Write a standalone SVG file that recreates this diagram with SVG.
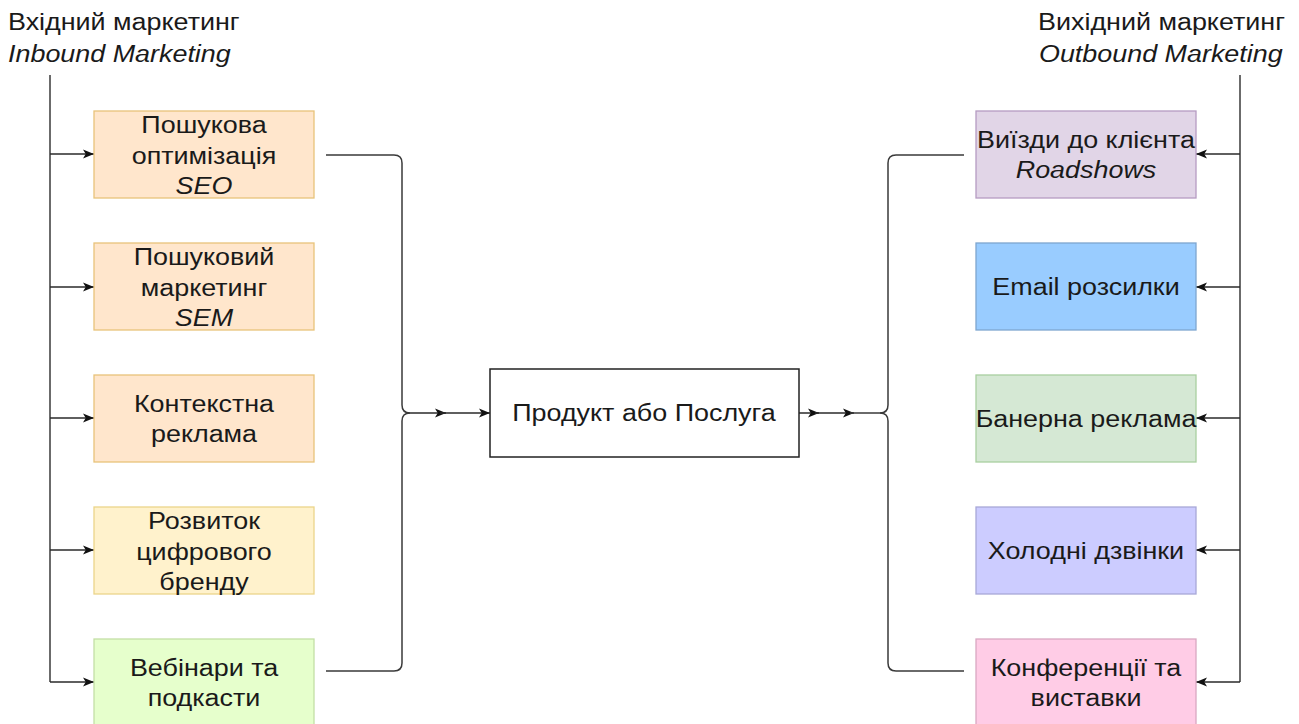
<svg xmlns="http://www.w3.org/2000/svg" width="1299" height="724" viewBox="0 0 1299 724">
<defs>
<marker id="ah" viewBox="0 0 10 10" refX="10" refY="5" markerWidth="11" markerHeight="10" markerUnits="userSpaceOnUse" orient="auto" preserveAspectRatio="none">
<path d="M0,0.5 L10,5 L0,9.5 L2.5,5 Z" fill="#111"/>
</marker>
<style>
text{font-family:"Liberation Sans",Arial,sans-serif;font-size:23px;fill:#1a1a1a}
.c{text-anchor:middle}
.e{text-anchor:end}
.i{font-style:italic}
.ln{fill:none;stroke:#3a3a3a;stroke-width:1.5}
.ar{fill:none;stroke:#2a2a2a;stroke-width:1.5;marker-end:url(#ah)}
.box{stroke-width:1.3}
</style>
</defs>
<rect width="1299" height="724" fill="#fff"/>

<g id="inbound-title" transform="translate(8,0) scale(1.17,1)">
<text x="0" y="30">Вхідний маркетинг</text>
<text x="0" y="62" class="i">Inbound Marketing</text>
</g>
<g id="outbound-title" transform="translate(1285,0) scale(1.17,1)">
<text x="0" y="30" class="e">Вихідний маркетинг</text>
<text x="-2" y="62" class="e i">Outbound Marketing</text>
</g>

<g id="connectors">
<path class="ln" d="M50,75 V682"/>
<path class="ar" d="M50,154 H94"/>
<path class="ar" d="M50,287 H94"/>
<path class="ar" d="M50,418 H94"/>
<path class="ar" d="M50,550 H94"/>
<path class="ar" d="M50,682 H94"/>
<path class="ln" d="M1240,75 V682"/>
<path class="ar" d="M1240,154 H1196"/>
<path class="ar" d="M1240,287 H1196"/>
<path class="ar" d="M1240,418 H1196"/>
<path class="ar" d="M1240,550 H1196"/>
<path class="ar" d="M1240,682 H1196"/>
<path class="ln" d="M326,155 H394 Q402,155 402,163 V405 Q402,413 410,413"/>
<path class="ln" d="M326,671 H394 Q402,671 402,663 V421 Q402,413 410,413"/>
<path class="ar" d="M410,413 H446"/>
<path class="ar" d="M440,413 H490"/>
<path class="ar" d="M799,413 H819"/>
<path class="ar" d="M815,413 H854"/>
<path class="ln" d="M850,413 H880 Q888,413 888,405 V163 Q888,155 896,155 H964"/>
<path class="ln" d="M880,413 Q888,413 888,421 V663 Q888,671 896,671 H964"/>
</g>

<g id="seo">
<rect class="box" x="94" y="111" width="220" height="87" fill="#FFE6CC" stroke="#E8C37A"/>
<g transform="translate(204,0) scale(1.17,1)">
<text class="c" x="0" y="133">Пошукова</text>
<text class="c" x="0" y="164">оптимізація</text>
<text class="c i" x="0" y="194">SEO</text>
</g>
</g>
<g id="sem">
<rect class="box" x="94" y="243" width="220" height="87" fill="#FFE6CC" stroke="#E8C37A"/>
<g transform="translate(204,0) scale(1.17,1)">
<text class="c" x="0" y="265">Пошуковий</text>
<text class="c" x="0" y="296">маркетинг</text>
<text class="c i" x="0" y="326">SEM</text>
</g>
</g>
<g id="context">
<rect class="box" x="94" y="375" width="220" height="87" fill="#FFE6CC" stroke="#E8C37A"/>
<g transform="translate(204,0) scale(1.17,1)">
<text class="c" x="0" y="412">Контекстна</text>
<text class="c" x="0" y="442">реклама</text>
</g>
</g>
<g id="brand">
<rect class="box" x="94" y="507" width="220" height="87" fill="#FFF2CC" stroke="#EBD48A"/>
<g transform="translate(204,0) scale(1.17,1)">
<text class="c" x="0" y="529">Розвиток</text>
<text class="c" x="0" y="560">цифрового</text>
<text class="c" x="0" y="590">бренду</text>
</g>
</g>
<g id="webinars">
<rect class="box" x="94" y="639" width="220" height="90" fill="#E6FFCC" stroke="#C4DFA6"/>
<g transform="translate(204,0) scale(1.17,1)">
<text class="c" x="0" y="676">Вебінари та</text>
<text class="c" x="0" y="706">подкасти</text>
</g>
</g>

<g id="product">
<rect x="490" y="369" width="309" height="88" fill="#fff" stroke="#222" stroke-width="1.5"/>
<g transform="translate(644,0) scale(1.17,1)">
<text class="c" x="0" y="421">Продукт або Послуга</text>
</g>
</g>

<g id="roadshows">
<rect class="box" x="976" y="111" width="220" height="87" fill="#E1D5E7" stroke="#B59CC2"/>
<g transform="translate(1086,0) scale(1.17,1)">
<text class="c" x="0" y="148">Виїзди до клієнта</text>
<text class="c i" x="0" y="178">Roadshows</text>
</g>
</g>
<g id="email">
<rect class="box" x="976" y="243" width="220" height="87" fill="#99CCFF" stroke="#7EA6CF"/>
<g transform="translate(1086,0) scale(1.17,1)">
<text class="c" x="0" y="295">Email розсилки</text>
</g>
</g>
<g id="banner">
<rect class="box" x="976" y="375" width="220" height="87" fill="#D5E8D4" stroke="#A9CFA0"/>
<g transform="translate(1086,0) scale(1.17,1)">
<text class="c" x="0" y="427">Банерна реклама</text>
</g>
</g>
<g id="cold-calls">
<rect class="box" x="976" y="507" width="220" height="87" fill="#CCCCFF" stroke="#A8A8D8"/>
<g transform="translate(1086,0) scale(1.17,1)">
<text class="c" x="0" y="559">Холодні дзвінки</text>
</g>
</g>
<g id="conferences">
<rect class="box" x="976" y="639" width="220" height="90" fill="#FFCCE6" stroke="#D9A8C2"/>
<g transform="translate(1086,0) scale(1.17,1)">
<text class="c" x="0" y="676">Конференції та</text>
<text class="c" x="0" y="706">виставки</text>
</g>
</g>
</svg>
